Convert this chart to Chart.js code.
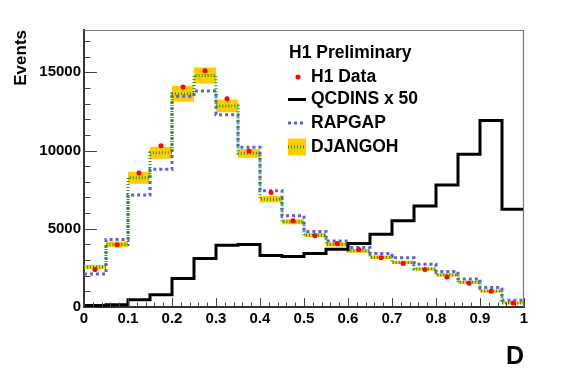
<!DOCTYPE html>
<html><head><meta charset="utf-8">
<script src="https://cdn.jsdelivr.net/npm/chart.js@4"></script>
<style>html,body{margin:0;padding:0;background:#fff}canvas{display:block}</style>
</head><body>
<canvas id="c" width="567" height="384"></canvas>
<script>
// ---- data ----
const binLow = [0, 0.05, 0.1, 0.15, 0.2, 0.25, 0.3, 0.35, 0.4, 0.45, 0.5, 0.55, 0.6, 0.65, 0.7, 0.75, 0.8, 0.85, 0.9, 0.95];
const binWidth = 0.05;
const h1Data  = [2390, 3970, 8560, 10310, 14050, 15090, 13300, 9950, 7320, 5510, 4550, 4060, 3670, 3140, 2780, 2390, 1920, 1520, 1000, 260];
const djangoh = [2560, 4000, 8260, 9860, 13620, 14790, 12850, 9820, 6890, 5450, 4590, 4000, 3590, 3180, 2850, 2430, 2050, 1580, 1020, 260];
const djangohErr = [130, 180, 380, 380, 510, 510, 400, 280, 210, 160, 140, 130, 120, 110, 110, 100, 100, 90, 90, 80];
const rapgap  = [2110, 4310, 7150, 8800, 13470, 13810, 12290, 10200, 7430, 5830, 4830, 4210, 3800, 3420, 3150, 2730, 2270, 1790, 1240, 430];
const qcdinsX50 = [90, 150, 470, 790, 1820, 3100, 3950, 4000, 3290, 3230, 3420, 3690, 4060, 4650, 5510, 6450, 7790, 9760, 11910, 6250];
const xTickValues = [0, 0.1, 0.2, 0.3, 0.4, 0.5, 0.6, 0.7, 0.8, 0.9, 1];
const xTickLabels = ['0', '0.1', '0.2', '0.3', '0.4', '0.5', '0.6', '0.7', '0.8', '0.9', '1'];
const yTickValues = [0, 5000, 10000, 15000];
const yTickLabels = ['0', '5000', '10000', '15000'];
const legendTitle = 'H1 Preliminary';
const seriesNames = ['H1 Data', 'QCDINS x 50', 'RAPGAP', 'DJANGOH'];
const xTitle = 'D';
const yTitle = 'Events';

// ---- helpers ----
function histPoints(vals) {
  const pts = binLow.map((x, i) => ({x: x, y: vals[i]}));
  pts.push({x: binLow[binLow.length - 1] + binWidth, y: vals[vals.length - 1]});
  return pts;
}
const bandHi = djangoh.map((v, i) => v + djangohErr[i]);
const bandLo = djangoh.map((v, i) => v - djangohErr[i]);
const dataPts = binLow.map((x, i) => ({x: x + binWidth / 2, y: h1Data[i]}));

const COL = {data: '#ff0000', qcd: '#000000', rap: '#5f5fdc', dja: '#1f991f', band: '#ffcc00'};
const FONT = '"Liberation Sans", Arial, Helvetica, sans-serif';
const STEP = 'before'; // Chart.js: horizontal first, then vertical

const frameAndTicks = {
  id: 'frameAndTicks',
  afterDatasetsDraw(chart) {
    const {ctx, chartArea: a, scales: {x, y}} = chart;
    ctx.save();
    ctx.strokeStyle = '#777';
    ctx.lineWidth = 1.2;
    ctx.beginPath();
    ctx.moveTo(a.left, a.top + 0.5); ctx.lineTo(a.right - 0.5, a.top + 0.5); ctx.lineTo(a.right - 0.5, a.bottom);
    ctx.stroke();
    ctx.strokeStyle = '#444';
    ctx.lineWidth = 1;
    ctx.beginPath();
    for (let k = 0; k <= 50; k++) {
      const v = k * 0.02;
      const px = Math.round(x.getPixelForValue(v)) + 0.5;
      const len = (k % 5 === 0) ? 9 : 4.5;
      ctx.moveTo(px, a.bottom); ctx.lineTo(px, a.bottom - len);
    }
    for (let v = 0; v <= y.max; v += 1000) {
      const py = Math.round(y.getPixelForValue(v)) + 0.5;
      const len = (v % 5000 === 0) ? 13 : 6.5;
      ctx.moveTo(a.left, py); ctx.lineTo(a.left + len, py);
    }
    ctx.stroke();
    ctx.restore();
  },
  afterDraw(chart) {
    const {ctx} = chart;
    ctx.save();
    ctx.fillStyle = '#000';
    ctx.textBaseline = 'middle';
    ctx.textAlign = 'left';
    ctx.font = 'bold 17.5px ' + FONT;
    ctx.fillText(legendTitle, 289, 53);
    const ys = [77, 99.5, 123, 147];
    const tx = 311;
    seriesNames.forEach((n, i) => ctx.fillText(n, tx, ys[i]));
    ctx.fillStyle = COL.data;
    ctx.beginPath(); ctx.arc(298, ys[0], 2.5, 0, Math.PI * 2); ctx.fill();
    ctx.strokeStyle = COL.qcd; ctx.lineWidth = 3;
    ctx.beginPath(); ctx.moveTo(288, ys[1]); ctx.lineTo(306, ys[1]); ctx.stroke();
    ctx.strokeStyle = COL.rap; ctx.setLineDash([3, 3]);
    ctx.beginPath(); ctx.moveTo(288, ys[2]); ctx.lineTo(306, ys[2]); ctx.stroke();
    ctx.setLineDash([]);
    ctx.fillStyle = COL.band;
    ctx.fillRect(288, ys[3] - 8.5, 18, 17);
    ctx.strokeStyle = COL.dja; ctx.setLineDash([1, 2]);
    ctx.beginPath(); ctx.moveTo(288, ys[3]); ctx.lineTo(306, ys[3]); ctx.stroke();
    ctx.restore();
  }
};

new Chart(document.getElementById('c'), {
  type: 'line',
  data: {
    datasets: [
      {label: seriesNames[0], data: dataPts, showLine: false, pointRadius: 2.5, pointBackgroundColor: COL.data, pointBorderWidth: 0},
      {label: seriesNames[1], data: histPoints(qcdinsX50), stepped: STEP, borderColor: COL.qcd, borderWidth: 3, pointRadius: 0, fill: false},
      {label: seriesNames[3], data: histPoints(djangoh), stepped: STEP, borderColor: COL.dja, borderWidth: 3, borderDash: [1, 2], pointRadius: 0, fill: false},
      {label: seriesNames[2], data: histPoints(rapgap), stepped: STEP, borderColor: COL.rap, borderWidth: 3, borderDash: [3, 3], pointRadius: 0, fill: false},
      {label: 'band hi', data: histPoints(bandHi), stepped: STEP, borderWidth: 0, borderColor: 'rgba(0,0,0,0)', backgroundColor: COL.band, pointRadius: 0, fill: '+1'},
      {label: 'band lo', data: histPoints(bandLo), stepped: STEP, borderWidth: 0, borderColor: 'rgba(0,0,0,0)', pointRadius: 0, fill: false}
    ]
  },
  options: {
    responsive: false,
    animation: false,
    devicePixelRatio: 1,
    layout: {padding: {left: 0, top: 30, right: 43, bottom: 0}},
    plugins: {legend: {display: false}, tooltip: {enabled: false}},
    scales: {
      x: {
        type: 'linear', min: 0, max: 1,
        afterFit(s) { s.height = 77; },
        afterBuildTicks(s) { s.ticks = xTickValues.map(v => ({value: v})); },
        grid: {display: false, drawTicks: false},
        border: {display: true, color: '#333', width: 2},
        ticks: {
          padding: 3, color: '#000', maxRotation: 0, autoSkip: false,
          font: {family: FONT, size: 15, weight: 'bold'},
          callback(v) { const i = xTickValues.findIndex(t => Math.abs(t - v) < 1e-9); return i >= 0 ? xTickLabels[i] : ''; }
        },
        title: {display: true, text: xTitle, align: 'end', color: '#000', font: {family: FONT, size: 25, weight: 'bold'}, padding: {top: 0, bottom: 12}}
      },
      y: {
        type: 'linear', min: 0, max: 17700,
        afterFit(s) { s.width = 84; },
        afterBuildTicks(s) { s.ticks = yTickValues.map(v => ({value: v})); },
        grid: {display: false, drawTicks: false},
        border: {display: true, color: '#333', width: 2},
        ticks: {
          padding: 3, color: '#000', autoSkip: false,
          font: {family: FONT, size: 15, weight: 'bold'},
          callback(v) { const i = yTickValues.indexOf(v); return i >= 0 ? yTickLabels[i] : ''; }
        },
        title: {display: true, text: yTitle, align: 'end', color: '#000', font: {family: FONT, size: 17, weight: 'bold'}, padding: {top: 11.5, bottom: 0}}
      }
    }
  },
  plugins: [frameAndTicks]
});
</script>
</body></html>
